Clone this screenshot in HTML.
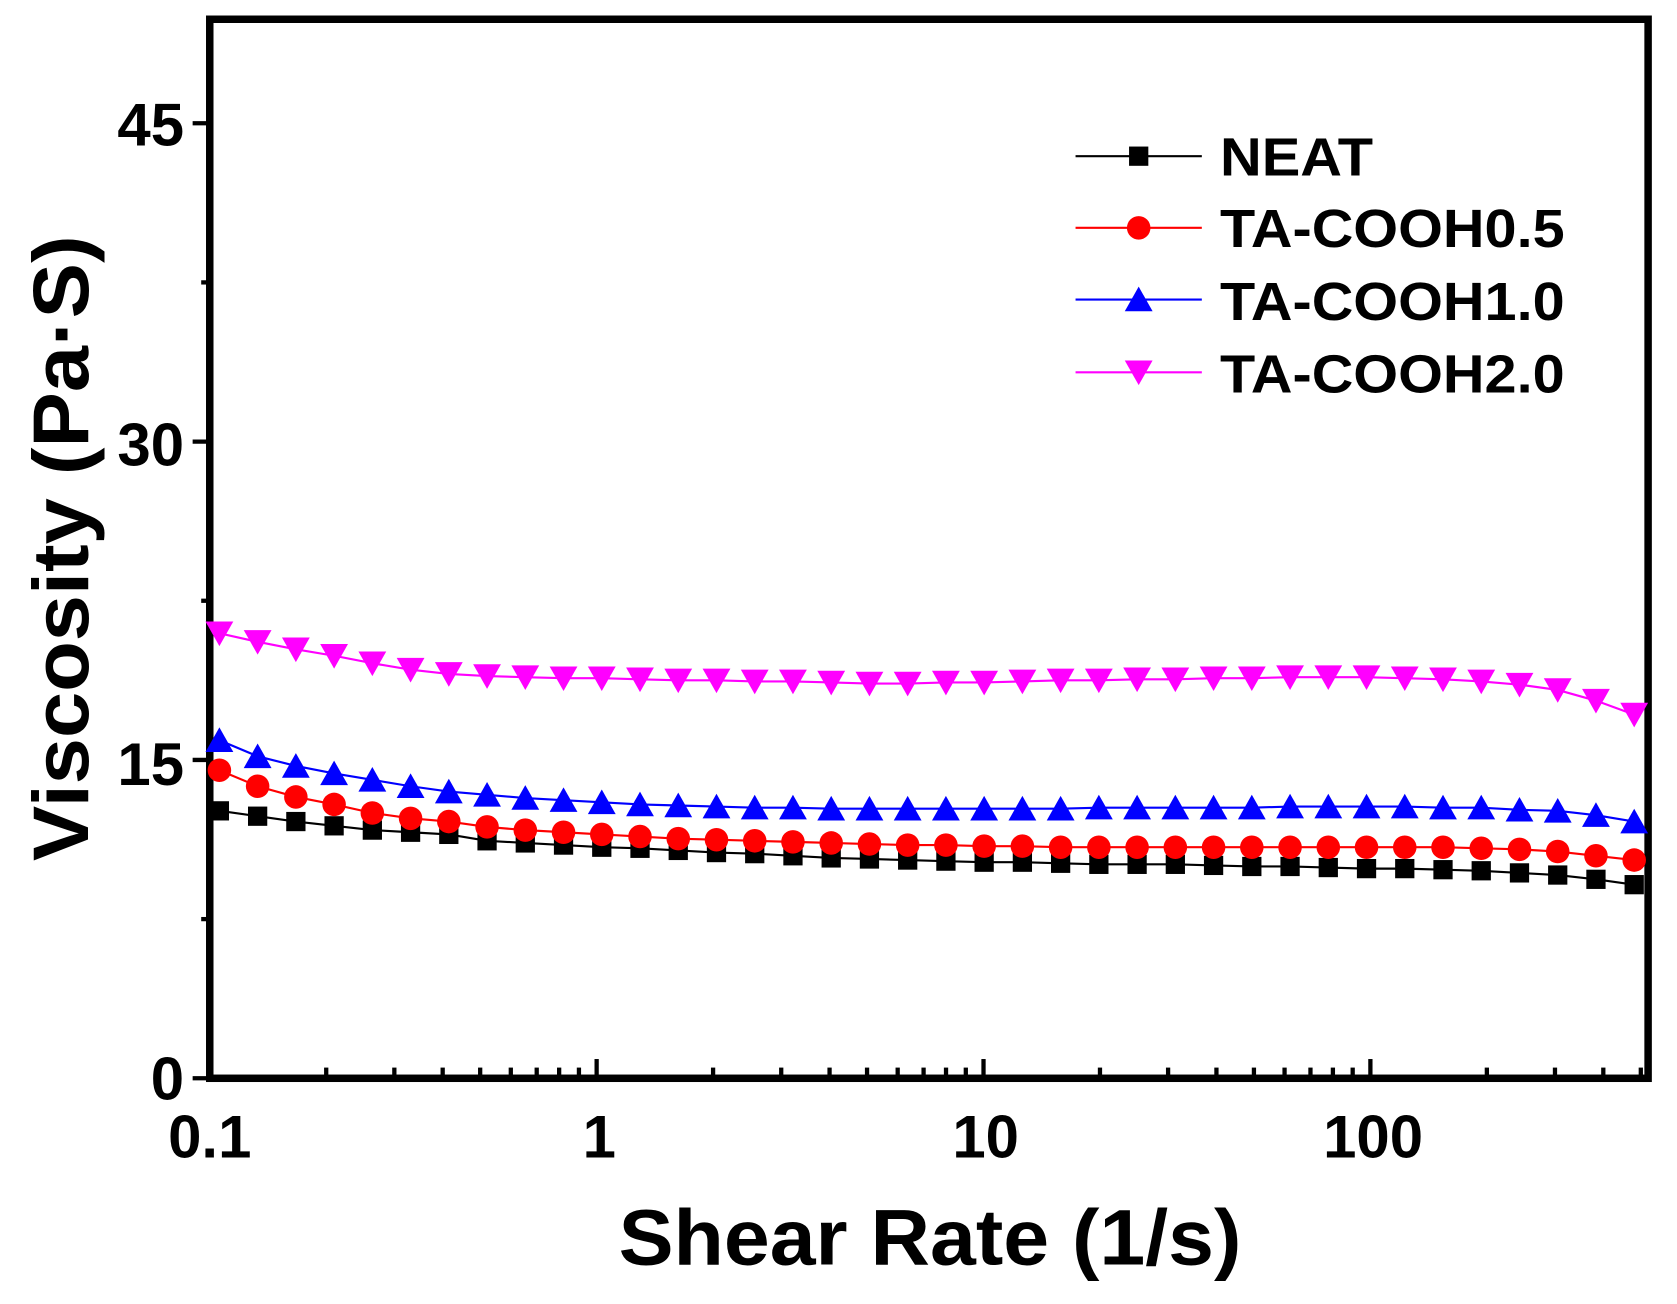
<!DOCTYPE html>
<html><head><meta charset="utf-8"><style>html,body{margin:0;padding:0;background:#fff}svg{display:block}</style></head>
<body>
<svg id="s" width="1677" height="1304" viewBox="0 0 1567 1219" preserveAspectRatio="none" xmlns="http://www.w3.org/2000/svg" font-family="Liberation Sans, Arial, sans-serif" font-weight="bold">
<rect x="196" y="18" width="1344" height="990" fill="none" stroke="#000" stroke-width="7"/>
<g id="ticks" stroke="#000" stroke-width="4"></g>
<g font-size="56" text-anchor="end">
<text x="172" y="1028">0</text><text x="172" y="734">15</text><text x="172" y="435">30</text><text x="172" y="136">45</text>
</g>
<g font-size="56" text-anchor="middle">
<text x="196" y="1082">0.1</text><text x="560" y="1082">1</text><text x="921" y="1082">10</text><text x="1283" y="1082">100</text>
</g>
<text x="578" y="1182" font-size="74" textLength="582" lengthAdjust="spacingAndGlyphs">Shear Rate (1/s)</text>
<text transform="translate(82,805) rotate(-90)" font-size="74" textLength="585" lengthAdjust="spacingAndGlyphs">Viscosity (Pa·S)</text>
<g id="data"></g>
<g font-size="50">
<line x1="1005" y1="146" x2="1123" y2="146" stroke="#000" stroke-width="2"/><rect x="1055" y="137" width="18" height="18" fill="#000"/><text x="1140" y="164" textLength="143" lengthAdjust="spacingAndGlyphs">NEAT</text>
<line x1="1005" y1="213" x2="1123" y2="213" stroke="#f00" stroke-width="2"/><circle cx="1064" cy="213" r="11" fill="#f00"/><text x="1140" y="231" textLength="322" lengthAdjust="spacingAndGlyphs">TA-COOH0.5</text>
<line x1="1005" y1="280" x2="1123" y2="280" stroke="#00f" stroke-width="2"/><polygon points="1064,268 1077,291 1051,291" fill="#00f"/><text x="1140" y="299" textLength="322" lengthAdjust="spacingAndGlyphs">TA-COOH1.0</text>
<line x1="1005" y1="348" x2="1123" y2="348" stroke="#f0f" stroke-width="2"/><polygon points="1064,360 1077,337 1051,337" fill="#f0f"/><text x="1140" y="367" textLength="322" lengthAdjust="spacingAndGlyphs">TA-COOH2.0</text>
</g>
</svg>
<script>
var NS="http://www.w3.org/2000/svg";
function el(p,t,a){var e=document.createElementNS(NS,t);for(var k in a)e.setAttribute(k,a[k]);p.appendChild(e);return e;}
var tk=document.getElementById("ticks");
var dec=361.5,x0=196;
for(var d=0;d<4;d++){for(var m=1;m<10;m++){var x=x0+dec*(d+Math.log10(m));if(x>1540)break;var L=m==1?18:10;el(tk,"line",{x1:x,y1:1008,x2:x,y2:1008-L});}}
for(var v=0;v<=45;v+=7.5){var y=1008-v*19.84;var major=(v%15==0);el(tk,"line",{x1:196,y1:y,x2:major?180:188,y2:y});}
var S=[
["#000","sq",[758,763,768,772,776,778,780,786,788,790,792,793,795,797,798,800,802,803,804,805,806,806,807,808,808,808,809,810,810,811,812,812,813,814,816,818,822,827]],
["#f00","ci",[720,735,745,752,760,765,768,773,776,778,780,782,784,785,786,787,788,789,790,790,791,791,792,792,792,792,792,792,792,792,792,792,792,793,794,796,800,804]],
["#00f","up",[692,707,716,723,729,735,740,743,746,748,750,752,753,754,755,755,756,756,756,756,756,756,756,755,755,755,755,755,754,754,754,754,755,755,757,758,762,768]],
["#f0f","dn",[592,600,607,613,620,626,630,632,633,634,634,635,636,636,637,637,638,639,639,638,638,637,636,636,635,635,634,634,633,633,633,634,635,637,640,645,655,668]]];
var g=document.getElementById("data");
S.forEach(function(s){var c=s[0],pts=[];s[2].forEach(function(y,i){pts.push([205+i*(1527-205)/37,y]);});
el(g,"polyline",{points:pts.map(function(p){return p.join(",")}).join(" "),fill:"none",stroke:c,"stroke-width":2});
pts.forEach(function(p){var x=p[0],y=p[1];
if(s[1]=="sq")el(g,"rect",{x:x-9,y:y-9,width:18,height:18,fill:c});
else if(s[1]=="ci")el(g,"circle",{cx:x,cy:y,r:11,fill:c});
else if(s[1]=="up")el(g,"polygon",{points:(x)+","+(y-12)+" "+(x+13)+","+(y+11)+" "+(x-13)+","+(y+11),fill:c});
else el(g,"polygon",{points:(x)+","+(y+12)+" "+(x+13)+","+(y-11)+" "+(x-13)+","+(y-11),fill:c});});});
</script>
</body></html>
